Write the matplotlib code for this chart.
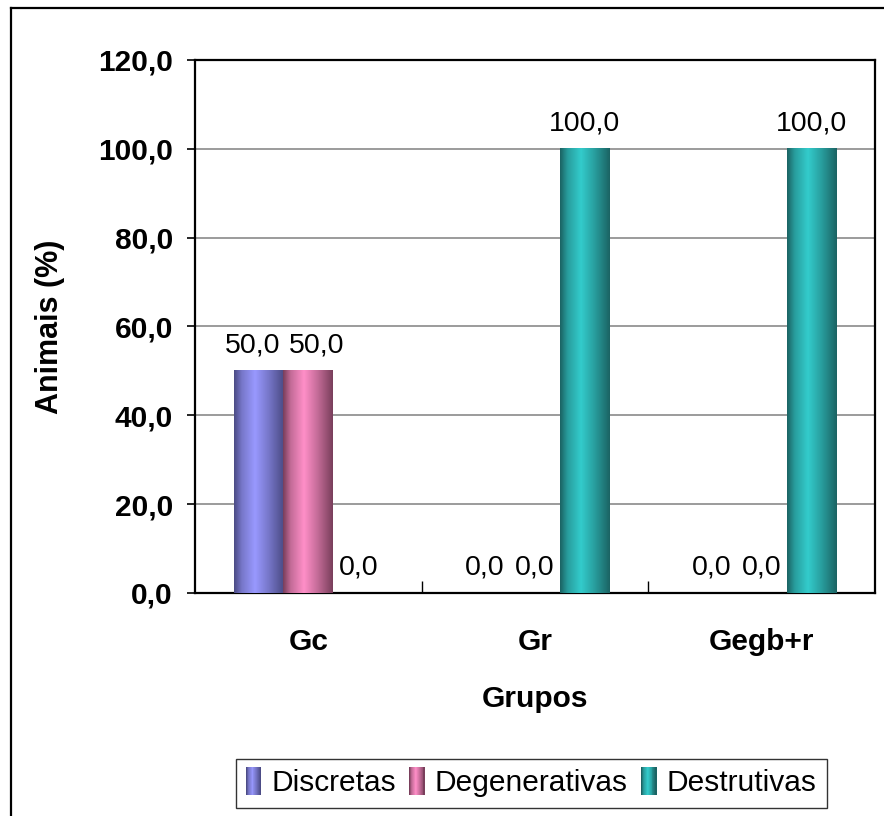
import numpy as np
import matplotlib
matplotlib.use("Agg")
import matplotlib.pyplot as plt
from matplotlib.patches import Rectangle, Patch
from matplotlib.legend_handler import HandlerBase
from matplotlib.lines import Line2D
from matplotlib.colors import to_rgb

plt.rcParams['font.family'] = ['Liberation Sans', 'DejaVu Sans']

grupos = ['Gc', 'Gr', 'Gegb+r']
series = ['Discretas', 'Degenerativas', 'Destrutivas']
discretas = [50.0, 0.0, 0.0]
degenerativas = [50.0, 0.0, 0.0]
destrutivas = [0.0, 100.0, 100.0]
valores = [discretas, degenerativas, destrutivas]

# cylinder-like shading: dark edges, light band a bit left of centre
tons = {
    'Discretas': ('#4c4c86', '#9999ff'),
    'Degenerativas': ('#7a3f5c', '#ff8fc8'),
    'Destrutivas': ('#1b6464', '#33cccc'),
}


def gradiente(escuro, claro, n=64):
    e = np.array(to_rgb(escuro))
    c = np.array(to_rgb(claro))
    t = np.linspace(0, 1, n)
    pos = [0.0, 0.15, 0.42, 0.7, 1.0]
    mix = [0.0, 0.55, 1.0, 0.55, 0.0]
    m = np.interp(t, pos, mix)
    return e[None, :] * (1 - m[:, None]) + c[None, :] * m[:, None]


class HandlerGradiente(HandlerBase):
    def __init__(self, cores):
        super().__init__()
        self.cores = cores

    def create_artists(self, legend, orig_handle, xdescent, ydescent,
                       width, height, fontsize, trans):
        cols = self.cores[orig_handle.get_label()]
        n = len(cols)
        arts = []
        for i, c in enumerate(cols):
            r = Rectangle((-xdescent + width * i / n, -ydescent - 3),
                          width / n + 0.3, height + 6, facecolor=c,
                          edgecolor='none', transform=trans)
            arts.append(r)
        return arts


fig = plt.figure(figsize=(8.84, 8.16), dpi=100)
ax = fig.add_axes([0.2206, 0.2733, 0.7692, 0.6532])

x = np.arange(len(grupos))
w = 0.22
grad_cores = {}
for i, (nome, vals) in enumerate(zip(series, valores)):
    escuro, claro = tons[nome]
    cols = gradiente(escuro, claro)
    grad_cores[nome] = gradiente(escuro, claro, 16)
    barras = ax.bar(x + (i - 1) * w, vals, w, color='none', label=nome,
                    zorder=3)
    for j, (rect, v) in enumerate(zip(barras, vals)):
        if v > 0:
            bx, by = rect.get_x(), rect.get_y()
            ax.imshow(cols[None, :, :], extent=[bx, bx + rect.get_width(),
                                                by, by + rect.get_height()],
                      aspect='auto', interpolation='bilinear', zorder=3)
        # push apart equal non-zero labels standing side by side
        dx = 0
        if v > 0:
            if i + 1 < len(valores) and valores[i + 1][j] == v:
                dx = -4
            elif i > 0 and valores[i - 1][j] == v:
                dx = 6
        ax.annotate(f'{v:.1f}'.replace('.', ','),
                    (rect.get_x() + rect.get_width() / 2, v),
                    xytext=(dx, 9), textcoords='offset points',
                    ha='center', va='bottom', fontsize=20.5, zorder=4)

ax.set_xlim(-0.5, 2.5)
ax.set_ylim(0, 120)
ax.set_aspect('auto')

yt = np.arange(0, 121, 20)
ax.set_yticks(yt)
ax.set_yticklabels([f'{v:.1f}'.replace('.', ',') for v in yt],
                   fontsize=21.5, fontweight='bold')
ax.tick_params(axis='y', direction='out', length=6, width=1.2, pad=10)

ax.set_xticks([0.5, 1.5])
ax.set_xticklabels([])
ax.tick_params(axis='x', which='major', direction='in', length=9, width=1)
ax.set_xticks(x, minor=True)
ax.set_xticklabels(grupos, minor=True, fontsize=21.5, fontweight='bold')
ax.tick_params(axis='x', which='minor', length=0, pad=25)

for v in yt[1:-1]:
    ax.axhline(v, color='#808080', lw=1.1, zorder=1)

for s in ax.spines.values():
    s.set_linewidth(1.6)
    s.set_color('black')

ax.set_xlabel('Grupos', fontsize=21.5, fontweight='bold', labelpad=21)
ax.set_ylabel('Animais (%)', fontsize=22, fontweight='bold', labelpad=24)

proxies = [Patch(label=n) for n in series]
leg = fig.legend(handles=proxies, loc='center', bbox_to_anchor=(0.601, 0.04),
                 ncol=3, fontsize=21.5, frameon=True, fancybox=False,
                 edgecolor='black', handlelength=0.5, handleheight=0.65,
                 handletextpad=0.35, columnspacing=0.45, borderpad=0.35,
                 handler_map={Patch: HandlerGradiente(grad_cores)})
leg.get_frame().set_linewidth(1.0)

# outer chart border, running off the right and bottom edges
fig.add_artist(Line2D([11 / 884, 11 / 884], [1 - 8 / 816, -0.05],
                      transform=fig.transFigure, color='black', lw=1.6))
fig.add_artist(Line2D([11 / 884, 1.05], [1 - 8 / 816, 1 - 8 / 816],
                      transform=fig.transFigure, color='black', lw=1.6))

fig.savefig('out.png', dpi=100)
